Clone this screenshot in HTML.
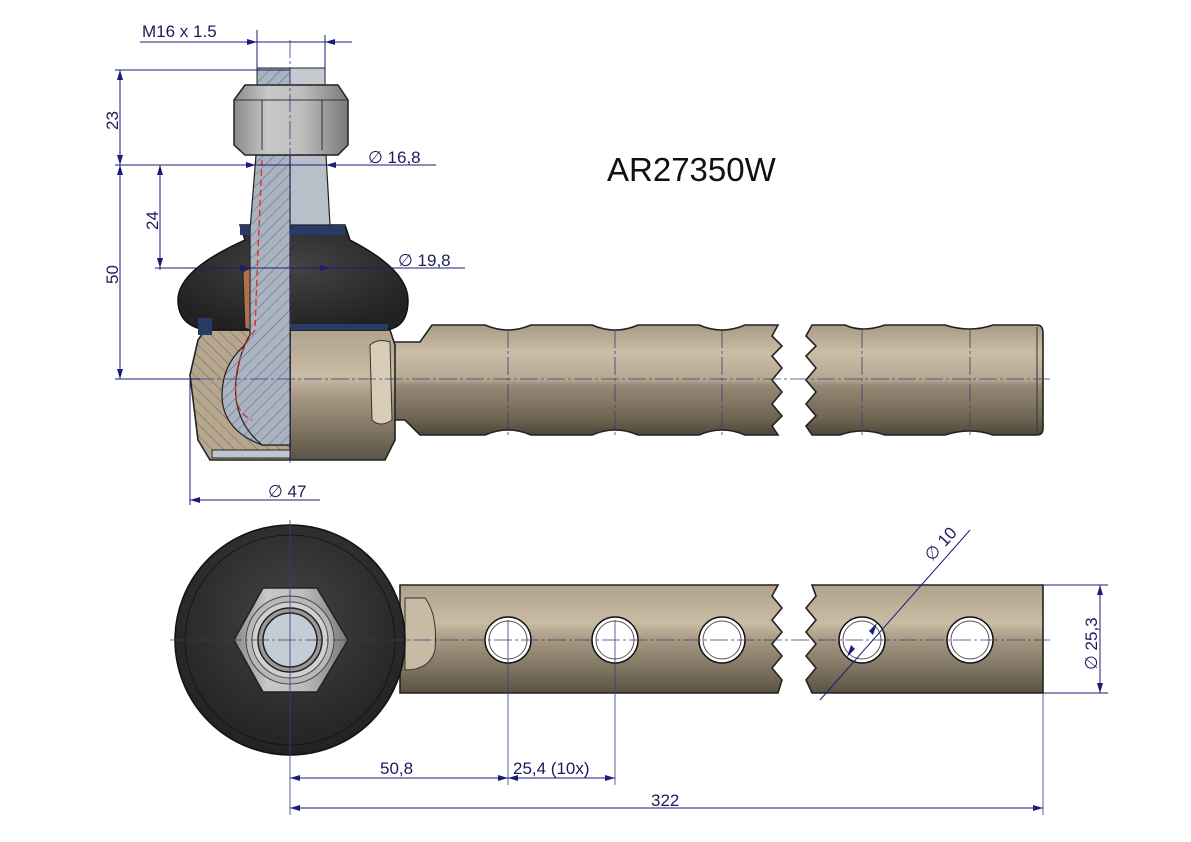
<!DOCTYPE html>
<html><head><meta charset="utf-8"><style>
html,body{margin:0;padding:0;background:#fff}
svg{display:block}
text{font-family:"Liberation Sans",sans-serif;fill:#1c1c5a}
</style></head><body>
<svg width="1191" height="842" viewBox="0 0 1191 842" xmlns="http://www.w3.org/2000/svg">
<defs>
<linearGradient id="sh" x1="0" y1="0" x2="0" y2="1">
<stop offset="0" stop-color="#a89a84"/><stop offset="0.25" stop-color="#cbbda6"/><stop offset="0.5" stop-color="#b4a690"/><stop offset="0.55" stop-color="#968a76"/><stop offset="0.85" stop-color="#6e6452"/><stop offset="1" stop-color="#4e463a"/>
</linearGradient>
<linearGradient id="sh2" x1="0" y1="0" x2="0" y2="1">
<stop offset="0" stop-color="#b0a28c"/><stop offset="0.35" stop-color="#c9bba4"/><stop offset="0.5" stop-color="#a89a84"/><stop offset="0.8" stop-color="#7a705e"/><stop offset="1" stop-color="#5a5244"/>
</linearGradient>
<linearGradient id="nut" x1="0" y1="0" x2="1" y2="0">
<stop offset="0" stop-color="#8a8a8a"/><stop offset="0.3" stop-color="#c8c8c8"/><stop offset="0.6" stop-color="#bdbdbd"/><stop offset="1" stop-color="#7a7a7a"/>
</linearGradient>
<radialGradient id="boot" cx="0.5" cy="0.4" r="0.6"><stop offset="0" stop-color="#444"/><stop offset="1" stop-color="#222"/></radialGradient>
<pattern id="hb" width="8" height="8" patternUnits="userSpaceOnUse" patternTransform="rotate(45)">
<rect width="8" height="8" fill="#a9b3c1"/><line x1="0" y1="0" x2="0" y2="8" stroke="#555" stroke-width="0.8"/></pattern>
<pattern id="ht" width="8" height="8" patternUnits="userSpaceOnUse" patternTransform="rotate(-45)">
<rect width="8" height="8" fill="#b5a68d"/><line x1="0" y1="0" x2="0" y2="8" stroke="#555" stroke-width="0.8"/></pattern>
</defs>

<!-- ===== TOP VIEW ===== -->
<!-- shank -->
<path d="M388,342 L420,342 L432,325 L485,325 Q508,335 531,325 L592,325 Q615,335 638,325 L699,325 Q722,335 745,325 L778,325 L772,336 L782,346 L772,356 L782,368 L772,380 L782,392 L772,404 L782,416 L772,426 L778,435 L745,435 Q722,425 699,435 L638,435 Q615,425 592,435 L531,435 Q508,425 485,435 L420,435 L405,420 L388,420 Z" fill="url(#sh)" stroke="#222" stroke-width="1.6"/>
<path d="M812,325 L845,325 Q862,333 885,325 L945,325 Q970,333 993,325 L1037,325 Q1043,325 1043,333 L1043,428 Q1043,435 1037,435 L993,435 Q970,427 945,435 L885,435 Q862,427 840,435 L812,435 L806,426 L816,416 L806,404 L816,392 L806,380 L816,368 L806,356 L816,346 L806,336 Z" fill="url(#sh)" stroke="#222" stroke-width="1.6"/>
<line x1="1037" y1="327" x2="1037" y2="433" stroke="#333"/>
<!-- housing right half -->
<path d="M290,330 L390,330 L395,345 L395,440 L385,460 L290,460 Z" fill="url(#sh2)" stroke="#222" stroke-width="1.6"/>
<path d="M370,345 Q378,338 390,342 L392,420 Q380,428 372,420 Z" fill="#d9cdb8" stroke="#333"/>
<!-- housing left section -->
<path d="M290,330 L205,330 L198,340 L190,375 L198,440 L210,460 L290,460 Z" fill="url(#ht)" stroke="#222" stroke-width="1.6"/>
<path d="M290,345 L245,345 Q222,365 222,395 Q222,430 262,445 L290,445 Z" fill="url(#hb)" stroke="#222" stroke-width="1.2"/>
<path d="M212,450 L290,450 L290,458 L212,458 Z" fill="#c0c6d0" stroke="#222"/>
<!-- boot -->
<path d="M240,225 L345,225 L350,240 Q408,270 408,300 Q408,328 385,330 L205,330 Q178,325 178,300 Q178,270 245,240 Z" fill="url(#boot)" stroke="#111" stroke-width="1.5"/>
<path d="M290,225 L345,225 L345,235 L290,235 Z" fill="#2a3a66"/>
<path d="M240,225 L252,225 L252,235 L240,235 Z" fill="#2a3a66"/>
<path d="M290,324 L388,324 L388,330 L290,330 Z" fill="#2a3a66"/>
<path d="M198,318 L212,318 L212,335 L198,335 Z" fill="#2a3a66"/>
<!-- stud taper -->
<path d="M256,155 L326,155 L330,225 L290,225 L290,155 Z" fill="#b9bfc9" stroke="#222" stroke-width="1.2"/>
<path d="M256,155 L290,155 L290,445 L262,445 Q232,420 236,380 Q240,350 250,335 L250,230 Z" fill="url(#hb)" stroke="#222" stroke-width="1.2"/>
<path d="M262,160 L258,250 L255,330 Q232,360 236,400 Q240,415 252,420" fill="none" stroke="#e0302a" stroke-width="1.4" stroke-dasharray="6,4"/>
<path d="M243,272 L250,268 L250,330 L245,328 Z" fill="#b07050" stroke="#222"/>
<!-- stud top thread -->
<path d="M257,68 L325,68 L325,85 L257,85 Z" fill="#c5c9d0" stroke="#222"/>
<rect x="257" y="68" width="33" height="17" fill="url(#hb)" stroke="#222"/>
<!-- nut -->
<path d="M245,85 L338,85 L348,100 L348,145 L338,155 L245,155 L234,145 L234,100 Z" fill="url(#nut)" stroke="#222" stroke-width="1.5"/>
<line x1="234" y1="100" x2="348" y2="100" stroke="#333"/>
<line x1="262" y1="100" x2="262" y2="150" stroke="#333"/>
<line x1="322" y1="100" x2="322" y2="150" stroke="#333"/>

<!-- ===== BOTTOM VIEW ===== -->
<path d="M400,585 L778,585 L772,596 L782,608 L772,620 L782,632 L772,644 L782,656 L772,668 L782,680 L778,693 L400,693 Z" fill="url(#sh2)" stroke="#222" stroke-width="1.6"/>
<path d="M812,585 L1043,585 L1043,693 L812,693 L806,680 L816,668 L806,656 L816,644 L806,632 L816,620 L806,608 L816,596 Z" fill="url(#sh2)" stroke="#222" stroke-width="1.6"/>
<path d="M405,598 L425,598 Q438,615 435,650 Q430,670 405,670 Z" fill="#c8bba4" stroke="#333"/>
<g fill="#fff" stroke="#111" stroke-width="1.5">
<circle cx="508" cy="640" r="23"/><circle cx="615" cy="640" r="23"/><circle cx="722" cy="640" r="23"/><circle cx="862" cy="640" r="23"/><circle cx="970" cy="640" r="23"/>
</g>
<g fill="none" stroke="#555" stroke-width="1">
<circle cx="508" cy="640" r="19"/><circle cx="615" cy="640" r="19"/><circle cx="722" cy="640" r="19"/><circle cx="862" cy="640" r="19"/><circle cx="970" cy="640" r="19"/>
</g>
<circle cx="290" cy="640" r="115" fill="url(#boot)" stroke="#111" stroke-width="1.5"/>
<circle cx="290" cy="640" r="105" fill="none" stroke="#111" stroke-width="0.8"/>
<path d="M263,588 L317,588 L348,640 L317,692 L263,692 L234,640 Z" fill="url(#nut)" stroke="#222" stroke-width="1.5"/>
<circle cx="290" cy="640" r="44" fill="#b8b8b8" stroke="#444"/>
<circle cx="290" cy="640" r="38" fill="#d0d0d0" stroke="#444"/>
<circle cx="290" cy="640" r="32" fill="#999" stroke="#222" stroke-width="1.5"/>
<circle cx="290" cy="640" r="27" fill="#c6ccd6" stroke="#222" stroke-width="1.5"/>

<!-- ===== center lines ===== -->
<g stroke="#3a3a7a" stroke-width="0.8" fill="none">
<line x1="290" y1="40" x2="290" y2="465" stroke-dasharray="18,3,3,3"/>
<line x1="115" y1="379" x2="1050" y2="379" stroke-dasharray="18,3,3,3"/>
<line x1="170" y1="640" x2="1050" y2="640" stroke-dasharray="18,3,3,3"/>
<line x1="290" y1="520" x2="290" y2="815"/>
<line x1="508" y1="330" x2="508" y2="435" stroke-dasharray="18,3,3,3"/><line x1="615" y1="330" x2="615" y2="435" stroke-dasharray="18,3,3,3"/><line x1="722" y1="330" x2="722" y2="435" stroke-dasharray="18,3,3,3"/><line x1="862" y1="330" x2="862" y2="435" stroke-dasharray="18,3,3,3"/><line x1="970" y1="330" x2="970" y2="435" stroke-dasharray="18,3,3,3"/>
<line x1="508" y1="620" x2="508" y2="785"/><line x1="615" y1="620" x2="615" y2="785"/>
<line x1="1043" y1="693" x2="1043" y2="815"/>
</g>

<!-- ===== dimensions ===== -->
<g stroke="#1c1c7a" stroke-width="1" fill="none">
<line x1="140" y1="42" x2="352" y2="42"/><line x1="257" y1="30" x2="257" y2="68"/><line x1="325" y1="35" x2="325" y2="68"/>
<line x1="115" y1="70" x2="290" y2="70"/><line x1="115" y1="165" x2="436" y2="165"/>
<line x1="120" y1="70" x2="120" y2="379"/>
<line x1="115" y1="379" x2="200" y2="379"/>
<line x1="160" y1="165" x2="160" y2="270"/>
<line x1="155" y1="268" x2="465" y2="268"/>
<line x1="190" y1="380" x2="190" y2="505"/>
<line x1="190" y1="500" x2="320" y2="500"/>
<line x1="290" y1="778" x2="615" y2="778"/>
<line x1="290" y1="808" x2="1043" y2="808"/>
<line x1="1043" y1="585" x2="1108" y2="585"/><line x1="1043" y1="693" x2="1108" y2="693"/>
<line x1="1100" y1="585" x2="1100" y2="693"/>
<line x1="820" y1="700" x2="970" y2="530"/>
</g>
<g fill="#1c1c7a">
<path d="M257,42 l-10,-3 v6z"/><path d="M325,42 l10,-3 v6z"/>
<path d="M120,70 l-3,10 h6z"/><path d="M120,165 l-3,-10 h6z"/><path d="M120,165 l-3,10 h6z"/><path d="M120,379 l-3,-10 h6z"/>
<path d="M160,165 l-3,10 h6z"/><path d="M160,268 l-3,-10 h6z"/>
<path d="M256,165 l-10,-3 v6z"/><path d="M326,165 l10,-3 v6z"/>
<path d="M250,268 l-10,-3 v6z"/><path d="M330,268 l-10,-3 v6z"/>
<path d="M190,500 l10,-3 v6z"/>
<path d="M290,778 l10,-3 v6z"/><path d="M508,778 l-10,-3 v6z"/><path d="M508,778 l10,-3 v6z"/><path d="M615,778 l-10,-3 v6z"/>
<path d="M290,808 l10,-3 v6z"/><path d="M1043,808 l-10,-3 v6z"/>
<path d="M1100,585 l-3,10 h6z"/><path d="M1100,693 l-3,-10 h6z"/>
<path d="M847,657 l4,-12 l4,4z"/><path d="M877,623 l-4,12 l-4,-4z"/>
</g>
<g font-size="17">
<text x="142" y="37">M16 x 1.5</text>
<text x="368" y="163">∅ 16,8</text>
<text x="398" y="266">∅ 19,8</text>
<text x="268" y="497">∅ 47</text>
<text x="380" y="774">50,8</text>
<text x="513" y="774">25,4  (10x)</text>
<text x="651" y="806">322</text>
<text transform="translate(118,130) rotate(-90)">23</text>
<text transform="translate(118,284) rotate(-90)">50</text>
<text transform="translate(158,230) rotate(-90)">24</text>
<text transform="translate(1097,670) rotate(-90)">∅ 25,3</text>
<text transform="translate(932,562) rotate(-48)">∅ 10</text>
</g>
<text x="607" y="181" font-size="33" style="fill:#111">AR27350W</text>
</svg>
</body></html>
